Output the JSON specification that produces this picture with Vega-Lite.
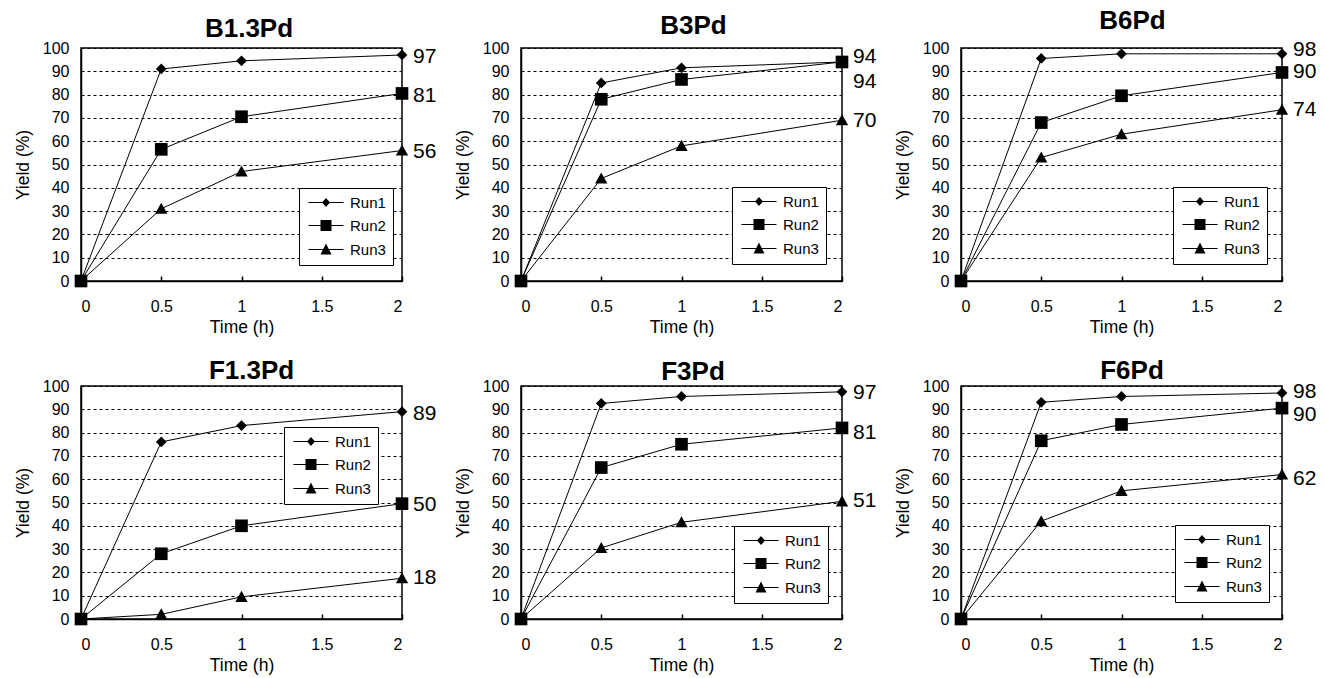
{
  "$schema": "https://vega.github.io/schema/vega-lite/v6.json",
  "background": "white",
  "padding": {"left": 13, "top": 7, "right": 5, "bottom": 5},
  "datasets": {
    "pts": [
      {"panel": "B1.3Pd", "run": "Run1", "t": 0, "y": 0}, {"panel": "B1.3Pd", "run": "Run1", "t": 0.5, "y": 91}, {"panel": "B1.3Pd", "run": "Run1", "t": 1, "y": 94.5}, {"panel": "B1.3Pd", "run": "Run1", "t": 2, "y": 97},
      {"panel": "B1.3Pd", "run": "Run2", "t": 0, "y": 0}, {"panel": "B1.3Pd", "run": "Run2", "t": 0.5, "y": 56.5}, {"panel": "B1.3Pd", "run": "Run2", "t": 1, "y": 70.5}, {"panel": "B1.3Pd", "run": "Run2", "t": 2, "y": 80.5},
      {"panel": "B1.3Pd", "run": "Run3", "t": 0, "y": 0}, {"panel": "B1.3Pd", "run": "Run3", "t": 0.5, "y": 31}, {"panel": "B1.3Pd", "run": "Run3", "t": 1, "y": 47}, {"panel": "B1.3Pd", "run": "Run3", "t": 2, "y": 56},
      {"panel": "B3Pd", "run": "Run1", "t": 0, "y": 0}, {"panel": "B3Pd", "run": "Run1", "t": 0.5, "y": 85}, {"panel": "B3Pd", "run": "Run1", "t": 1, "y": 91.5}, {"panel": "B3Pd", "run": "Run1", "t": 2, "y": 94},
      {"panel": "B3Pd", "run": "Run2", "t": 0, "y": 0}, {"panel": "B3Pd", "run": "Run2", "t": 0.5, "y": 78}, {"panel": "B3Pd", "run": "Run2", "t": 1, "y": 86.5}, {"panel": "B3Pd", "run": "Run2", "t": 2, "y": 94},
      {"panel": "B3Pd", "run": "Run3", "t": 0, "y": 0}, {"panel": "B3Pd", "run": "Run3", "t": 0.5, "y": 44}, {"panel": "B3Pd", "run": "Run3", "t": 1, "y": 58}, {"panel": "B3Pd", "run": "Run3", "t": 2, "y": 69},
      {"panel": "B6Pd", "run": "Run1", "t": 0, "y": 0}, {"panel": "B6Pd", "run": "Run1", "t": 0.5, "y": 95.5}, {"panel": "B6Pd", "run": "Run1", "t": 1, "y": 97.5}, {"panel": "B6Pd", "run": "Run1", "t": 2, "y": 97.5},
      {"panel": "B6Pd", "run": "Run2", "t": 0, "y": 0}, {"panel": "B6Pd", "run": "Run2", "t": 0.5, "y": 68}, {"panel": "B6Pd", "run": "Run2", "t": 1, "y": 79.5}, {"panel": "B6Pd", "run": "Run2", "t": 2, "y": 89.5},
      {"panel": "B6Pd", "run": "Run3", "t": 0, "y": 0}, {"panel": "B6Pd", "run": "Run3", "t": 0.5, "y": 53}, {"panel": "B6Pd", "run": "Run3", "t": 1, "y": 63}, {"panel": "B6Pd", "run": "Run3", "t": 2, "y": 73.5},
      {"panel": "F1.3Pd", "run": "Run1", "t": 0, "y": 0}, {"panel": "F1.3Pd", "run": "Run1", "t": 0.5, "y": 76}, {"panel": "F1.3Pd", "run": "Run1", "t": 1, "y": 83}, {"panel": "F1.3Pd", "run": "Run1", "t": 2, "y": 89},
      {"panel": "F1.3Pd", "run": "Run2", "t": 0, "y": 0}, {"panel": "F1.3Pd", "run": "Run2", "t": 0.5, "y": 28}, {"panel": "F1.3Pd", "run": "Run2", "t": 1, "y": 40}, {"panel": "F1.3Pd", "run": "Run2", "t": 2, "y": 49.5},
      {"panel": "F1.3Pd", "run": "Run3", "t": 0, "y": 0}, {"panel": "F1.3Pd", "run": "Run3", "t": 0.5, "y": 2}, {"panel": "F1.3Pd", "run": "Run3", "t": 1, "y": 9.5}, {"panel": "F1.3Pd", "run": "Run3", "t": 2, "y": 17.5},
      {"panel": "F3Pd", "run": "Run1", "t": 0, "y": 0}, {"panel": "F3Pd", "run": "Run1", "t": 0.5, "y": 92.5}, {"panel": "F3Pd", "run": "Run1", "t": 1, "y": 95.5}, {"panel": "F3Pd", "run": "Run1", "t": 2, "y": 97.5},
      {"panel": "F3Pd", "run": "Run2", "t": 0, "y": 0}, {"panel": "F3Pd", "run": "Run2", "t": 0.5, "y": 65}, {"panel": "F3Pd", "run": "Run2", "t": 1, "y": 75}, {"panel": "F3Pd", "run": "Run2", "t": 2, "y": 82},
      {"panel": "F3Pd", "run": "Run3", "t": 0, "y": 0}, {"panel": "F3Pd", "run": "Run3", "t": 0.5, "y": 30.5}, {"panel": "F3Pd", "run": "Run3", "t": 1, "y": 41.5}, {"panel": "F3Pd", "run": "Run3", "t": 2, "y": 50.5},
      {"panel": "F6Pd", "run": "Run1", "t": 0, "y": 0}, {"panel": "F6Pd", "run": "Run1", "t": 0.5, "y": 93}, {"panel": "F6Pd", "run": "Run1", "t": 1, "y": 95.5}, {"panel": "F6Pd", "run": "Run1", "t": 2, "y": 97},
      {"panel": "F6Pd", "run": "Run2", "t": 0, "y": 0}, {"panel": "F6Pd", "run": "Run2", "t": 0.5, "y": 76.5}, {"panel": "F6Pd", "run": "Run2", "t": 1, "y": 83.5}, {"panel": "F6Pd", "run": "Run2", "t": 2, "y": 90.5},
      {"panel": "F6Pd", "run": "Run3", "t": 0, "y": 0}, {"panel": "F6Pd", "run": "Run3", "t": 0.5, "y": 42}, {"panel": "F6Pd", "run": "Run3", "t": 1, "y": 55}, {"panel": "F6Pd", "run": "Run3", "t": 2, "y": 62}
    ],
    "lbl": [
      {"panel": "B1.3Pd", "t": 2, "y": 96, "label": "97"}, {"panel": "B1.3Pd", "t": 2, "y": 79.5, "label": "81"}, {"panel": "B1.3Pd", "t": 2, "y": 55.5, "label": "56"},
      {"panel": "B3Pd", "t": 2, "y": 96, "label": "94"}, {"panel": "B3Pd", "t": 2, "y": 85.5, "label": "94"}, {"panel": "B3Pd", "t": 2, "y": 68.5, "label": "70"},
      {"panel": "B6Pd", "t": 2, "y": 99, "label": "98"}, {"panel": "B6Pd", "t": 2, "y": 89.5, "label": "90"}, {"panel": "B6Pd", "t": 2, "y": 73.5, "label": "74"},
      {"panel": "F1.3Pd", "t": 2, "y": 88, "label": "89"}, {"panel": "F1.3Pd", "t": 2, "y": 49, "label": "50"}, {"panel": "F1.3Pd", "t": 2, "y": 17.5, "label": "18"},
      {"panel": "F3Pd", "t": 2, "y": 97, "label": "97"}, {"panel": "F3Pd", "t": 2, "y": 80, "label": "81"}, {"panel": "F3Pd", "t": 2, "y": 50.5, "label": "51"},
      {"panel": "F6Pd", "t": 2, "y": 97.5, "label": "98"}, {"panel": "F6Pd", "t": 2, "y": 87.5, "label": "90"}, {"panel": "F6Pd", "t": 2, "y": 60, "label": "62"}
    ]
  },
  "columns": 3,
  "spacing": {"row": 105, "column": 119},
  "bounds": "flush",
  "concat": [
    {
      "width": 321, "height": 233,
      "title": {"text": "B1.3Pd", "dx": 7.5, "offset": -2},
      "encoding": {
        "x": {"field": "t", "type": "quantitative", "scale": {"domain": [0, 2], "nice": false, "zero": false}, "axis": {"values": [0, 0.5, 1, 1.5, 2], "format": "~g", "title": "Time (h)", "grid": false, "tickSize": -5, "labelPadding": 22, "titlePadding": 4}},
        "y": {"field": "y", "type": "quantitative", "scale": {"domain": [0, 100], "nice": false}, "axis": {"values": [0, 10, 20, 30, 40, 50, 60, 70, 80, 90, 100], "title": "Yield (%)", "grid": true, "ticks": false, "labelPadding": 12, "titlePadding": 10}}
      },
      "layer": [
        {"data": {"name": "pts"}, "transform": [{"filter": "datum.panel === 'B1.3Pd'"}], "mark": {"type": "line", "color": "black", "strokeWidth": 1}, "encoding": {"detail": {"field": "run"}}},
        {"data": {"name": "pts"}, "transform": [{"filter": "datum.panel === 'B1.3Pd'"}], "mark": {"type": "point", "filled": true, "color": "black", "opacity": 1, "size": 160},
          "encoding": {"shape": {"field": "run", "scale": {"domain": ["Run1", "Run2", "Run3"], "range": ["M0,-0.85L0.85,0L0,0.85L-0.85,0Z", "M-1,-1H1V1H-1Z", "M0,-0.95L0.97,0.8L-0.97,0.8Z"]}, "legend": null}}},
        {"data": {"name": "pts"}, "transform": [{"filter": "false"}], "mark": {"type": "point", "filled": true, "color": "black", "opacity": 1, "size": 100},
          "encoding": {"shape": {"field": "run", "scale": {"domain": ["Run1", "Run2", "Run3"], "range": ["M-2.4,0M-1,-0.11H6V0.11H-1ZM1.7,0L2.5,-0.9L3.3,0L2.5,0.9Z", "M-2.4,0M-1,-0.11H6V0.11H-1ZM1.4,-1.1H3.6V1.1H1.4Z", "M-2.4,0M-1,-0.11H6V0.11H-1ZM2.5,-1.2L3.6,1L1.4,1Z"]},
            "legend": {"orient": "none", "legendX": 218, "legendY": 140, "title": null, "symbolSize": 100, "symbolOpacity": 1}}}},
        {"data": {"name": "lbl"}, "transform": [{"filter": "datum.panel === 'B1.3Pd'"}], "mark": {"type": "text", "align": "left", "baseline": "middle", "dx": 11, "fontSize": 21, "color": "black"}, "encoding": {"text": {"field": "label"}}}
      ],
      "resolve": {"scale": {"shape": "independent"}, "legend": {"shape": "independent"}}
    },
    {
      "width": 321, "height": 233,
      "title": {"text": "B3Pd", "dx": 12, "offset": 1},
      "encoding": {
        "x": {"field": "t", "type": "quantitative", "scale": {"domain": [0, 2], "nice": false, "zero": false}, "axis": {"values": [0, 0.5, 1, 1.5, 2], "format": "~g", "title": "Time (h)", "grid": false, "tickSize": -5, "labelPadding": 22, "titlePadding": 4}},
        "y": {"field": "y", "type": "quantitative", "scale": {"domain": [0, 100], "nice": false}, "axis": {"values": [0, 10, 20, 30, 40, 50, 60, 70, 80, 90, 100], "title": "Yield (%)", "grid": true, "ticks": false, "labelPadding": 12, "titlePadding": 10}}
      },
      "layer": [
        {"data": {"name": "pts"}, "transform": [{"filter": "datum.panel === 'B3Pd'"}], "mark": {"type": "line", "color": "black", "strokeWidth": 1}, "encoding": {"detail": {"field": "run"}}},
        {"data": {"name": "pts"}, "transform": [{"filter": "datum.panel === 'B3Pd'"}], "mark": {"type": "point", "filled": true, "color": "black", "opacity": 1, "size": 160},
          "encoding": {"shape": {"field": "run", "scale": {"domain": ["Run1", "Run2", "Run3"], "range": ["M0,-0.85L0.85,0L0,0.85L-0.85,0Z", "M-1,-1H1V1H-1Z", "M0,-0.95L0.97,0.8L-0.97,0.8Z"]}, "legend": null}}},
        {"data": {"name": "pts"}, "transform": [{"filter": "false"}], "mark": {"type": "point", "filled": true, "color": "black", "opacity": 1, "size": 100},
          "encoding": {"shape": {"field": "run", "scale": {"domain": ["Run1", "Run2", "Run3"], "range": ["M-2.4,0M-1,-0.11H6V0.11H-1ZM1.7,0L2.5,-0.9L3.3,0L2.5,0.9Z", "M-2.4,0M-1,-0.11H6V0.11H-1ZM1.4,-1.1H3.6V1.1H1.4Z", "M-2.4,0M-1,-0.11H6V0.11H-1ZM2.5,-1.2L3.6,1L1.4,1Z"]},
            "legend": {"orient": "none", "legendX": 211, "legendY": 139, "title": null, "symbolSize": 100, "symbolOpacity": 1}}}},
        {"data": {"name": "lbl"}, "transform": [{"filter": "datum.panel === 'B3Pd'"}], "mark": {"type": "text", "align": "left", "baseline": "middle", "dx": 11, "fontSize": 21, "color": "black"}, "encoding": {"text": {"field": "label"}}}
      ],
      "resolve": {"scale": {"shape": "independent"}, "legend": {"shape": "independent"}}
    },
    {
      "width": 321, "height": 233,
      "title": {"text": "B6Pd", "dx": 11, "offset": 5},
      "encoding": {
        "x": {"field": "t", "type": "quantitative", "scale": {"domain": [0, 2], "nice": false, "zero": false}, "axis": {"values": [0, 0.5, 1, 1.5, 2], "format": "~g", "title": "Time (h)", "grid": false, "tickSize": -5, "labelPadding": 22, "titlePadding": 4}},
        "y": {"field": "y", "type": "quantitative", "scale": {"domain": [0, 100], "nice": false}, "axis": {"values": [0, 10, 20, 30, 40, 50, 60, 70, 80, 90, 100], "title": "Yield (%)", "grid": true, "ticks": false, "labelPadding": 12, "titlePadding": 10}}
      },
      "layer": [
        {"data": {"name": "pts"}, "transform": [{"filter": "datum.panel === 'B6Pd'"}], "mark": {"type": "line", "color": "black", "strokeWidth": 1}, "encoding": {"detail": {"field": "run"}}},
        {"data": {"name": "pts"}, "transform": [{"filter": "datum.panel === 'B6Pd'"}], "mark": {"type": "point", "filled": true, "color": "black", "opacity": 1, "size": 160},
          "encoding": {"shape": {"field": "run", "scale": {"domain": ["Run1", "Run2", "Run3"], "range": ["M0,-0.85L0.85,0L0,0.85L-0.85,0Z", "M-1,-1H1V1H-1Z", "M0,-0.95L0.97,0.8L-0.97,0.8Z"]}, "legend": null}}},
        {"data": {"name": "pts"}, "transform": [{"filter": "false"}], "mark": {"type": "point", "filled": true, "color": "black", "opacity": 1, "size": 100},
          "encoding": {"shape": {"field": "run", "scale": {"domain": ["Run1", "Run2", "Run3"], "range": ["M-2.4,0M-1,-0.11H6V0.11H-1ZM1.7,0L2.5,-0.9L3.3,0L2.5,0.9Z", "M-2.4,0M-1,-0.11H6V0.11H-1ZM1.4,-1.1H3.6V1.1H1.4Z", "M-2.4,0M-1,-0.11H6V0.11H-1ZM2.5,-1.2L3.6,1L1.4,1Z"]},
            "legend": {"orient": "none", "legendX": 212, "legendY": 139, "title": null, "symbolSize": 100, "symbolOpacity": 1}}}},
        {"data": {"name": "lbl"}, "transform": [{"filter": "datum.panel === 'B6Pd'"}], "mark": {"type": "text", "align": "left", "baseline": "middle", "dx": 11, "fontSize": 21, "color": "black"}, "encoding": {"text": {"field": "label"}}}
      ],
      "resolve": {"scale": {"shape": "independent"}, "legend": {"shape": "independent"}}
    },
    {
      "width": 321, "height": 233,
      "title": {"text": "F1.3Pd", "dx": 10, "offset": -6},
      "encoding": {
        "x": {"field": "t", "type": "quantitative", "scale": {"domain": [0, 2], "nice": false, "zero": false}, "axis": {"values": [0, 0.5, 1, 1.5, 2], "format": "~g", "title": "Time (h)", "grid": false, "tickSize": -5, "labelPadding": 22, "titlePadding": 4}},
        "y": {"field": "y", "type": "quantitative", "scale": {"domain": [0, 100], "nice": false}, "axis": {"values": [0, 10, 20, 30, 40, 50, 60, 70, 80, 90, 100], "title": "Yield (%)", "grid": true, "ticks": false, "labelPadding": 12, "titlePadding": 10}}
      },
      "layer": [
        {"data": {"name": "pts"}, "transform": [{"filter": "datum.panel === 'F1.3Pd'"}], "mark": {"type": "line", "color": "black", "strokeWidth": 1}, "encoding": {"detail": {"field": "run"}}},
        {"data": {"name": "pts"}, "transform": [{"filter": "datum.panel === 'F1.3Pd'"}], "mark": {"type": "point", "filled": true, "color": "black", "opacity": 1, "size": 160},
          "encoding": {"shape": {"field": "run", "scale": {"domain": ["Run1", "Run2", "Run3"], "range": ["M0,-0.85L0.85,0L0,0.85L-0.85,0Z", "M-1,-1H1V1H-1Z", "M0,-0.95L0.97,0.8L-0.97,0.8Z"]}, "legend": null}}},
        {"data": {"name": "pts"}, "transform": [{"filter": "false"}], "mark": {"type": "point", "filled": true, "color": "black", "opacity": 1, "size": 100},
          "encoding": {"shape": {"field": "run", "scale": {"domain": ["Run1", "Run2", "Run3"], "range": ["M-2.4,0M-1,-0.11H6V0.11H-1ZM1.7,0L2.5,-0.9L3.3,0L2.5,0.9Z", "M-2.4,0M-1,-0.11H6V0.11H-1ZM1.4,-1.1H3.6V1.1H1.4Z", "M-2.4,0M-1,-0.11H6V0.11H-1ZM2.5,-1.2L3.6,1L1.4,1Z"]},
            "legend": {"orient": "none", "legendX": 203, "legendY": 41, "title": null, "symbolSize": 100, "symbolOpacity": 1}}}},
        {"data": {"name": "lbl"}, "transform": [{"filter": "datum.panel === 'F1.3Pd'"}], "mark": {"type": "text", "align": "left", "baseline": "middle", "dx": 11, "fontSize": 21, "color": "black"}, "encoding": {"text": {"field": "label"}}}
      ],
      "resolve": {"scale": {"shape": "independent"}, "legend": {"shape": "independent"}}
    },
    {
      "width": 321, "height": 233,
      "title": {"text": "F3Pd", "dx": 11.5, "offset": -7},
      "encoding": {
        "x": {"field": "t", "type": "quantitative", "scale": {"domain": [0, 2], "nice": false, "zero": false}, "axis": {"values": [0, 0.5, 1, 1.5, 2], "format": "~g", "title": "Time (h)", "grid": false, "tickSize": -5, "labelPadding": 22, "titlePadding": 4}},
        "y": {"field": "y", "type": "quantitative", "scale": {"domain": [0, 100], "nice": false}, "axis": {"values": [0, 10, 20, 30, 40, 50, 60, 70, 80, 90, 100], "title": "Yield (%)", "grid": true, "ticks": false, "labelPadding": 12, "titlePadding": 10}}
      },
      "layer": [
        {"data": {"name": "pts"}, "transform": [{"filter": "datum.panel === 'F3Pd'"}], "mark": {"type": "line", "color": "black", "strokeWidth": 1}, "encoding": {"detail": {"field": "run"}}},
        {"data": {"name": "pts"}, "transform": [{"filter": "datum.panel === 'F3Pd'"}], "mark": {"type": "point", "filled": true, "color": "black", "opacity": 1, "size": 160},
          "encoding": {"shape": {"field": "run", "scale": {"domain": ["Run1", "Run2", "Run3"], "range": ["M0,-0.85L0.85,0L0,0.85L-0.85,0Z", "M-1,-1H1V1H-1Z", "M0,-0.95L0.97,0.8L-0.97,0.8Z"]}, "legend": null}}},
        {"data": {"name": "pts"}, "transform": [{"filter": "false"}], "mark": {"type": "point", "filled": true, "color": "black", "opacity": 1, "size": 100},
          "encoding": {"shape": {"field": "run", "scale": {"domain": ["Run1", "Run2", "Run3"], "range": ["M-2.4,0M-1,-0.11H6V0.11H-1ZM1.7,0L2.5,-0.9L3.3,0L2.5,0.9Z", "M-2.4,0M-1,-0.11H6V0.11H-1ZM1.4,-1.1H3.6V1.1H1.4Z", "M-2.4,0M-1,-0.11H6V0.11H-1ZM2.5,-1.2L3.6,1L1.4,1Z"]},
            "legend": {"orient": "none", "legendX": 213, "legendY": 140, "title": null, "symbolSize": 100, "symbolOpacity": 1}}}},
        {"data": {"name": "lbl"}, "transform": [{"filter": "datum.panel === 'F3Pd'"}], "mark": {"type": "text", "align": "left", "baseline": "middle", "dx": 11, "fontSize": 21, "color": "black"}, "encoding": {"text": {"field": "label"}}}
      ],
      "resolve": {"scale": {"shape": "independent"}, "legend": {"shape": "independent"}}
    },
    {
      "width": 321, "height": 233,
      "title": {"text": "F6Pd", "dx": 10.5, "offset": -6},
      "encoding": {
        "x": {"field": "t", "type": "quantitative", "scale": {"domain": [0, 2], "nice": false, "zero": false}, "axis": {"values": [0, 0.5, 1, 1.5, 2], "format": "~g", "title": "Time (h)", "grid": false, "tickSize": -5, "labelPadding": 22, "titlePadding": 4}},
        "y": {"field": "y", "type": "quantitative", "scale": {"domain": [0, 100], "nice": false}, "axis": {"values": [0, 10, 20, 30, 40, 50, 60, 70, 80, 90, 100], "title": "Yield (%)", "grid": true, "ticks": false, "labelPadding": 12, "titlePadding": 10}}
      },
      "layer": [
        {"data": {"name": "pts"}, "transform": [{"filter": "datum.panel === 'F6Pd'"}], "mark": {"type": "line", "color": "black", "strokeWidth": 1}, "encoding": {"detail": {"field": "run"}}},
        {"data": {"name": "pts"}, "transform": [{"filter": "datum.panel === 'F6Pd'"}], "mark": {"type": "point", "filled": true, "color": "black", "opacity": 1, "size": 160},
          "encoding": {"shape": {"field": "run", "scale": {"domain": ["Run1", "Run2", "Run3"], "range": ["M0,-0.85L0.85,0L0,0.85L-0.85,0Z", "M-1,-1H1V1H-1Z", "M0,-0.95L0.97,0.8L-0.97,0.8Z"]}, "legend": null}}},
        {"data": {"name": "pts"}, "transform": [{"filter": "false"}], "mark": {"type": "point", "filled": true, "color": "black", "opacity": 1, "size": 100},
          "encoding": {"shape": {"field": "run", "scale": {"domain": ["Run1", "Run2", "Run3"], "range": ["M-2.4,0M-1,-0.11H6V0.11H-1ZM1.7,0L2.5,-0.9L3.3,0L2.5,0.9Z", "M-2.4,0M-1,-0.11H6V0.11H-1ZM1.4,-1.1H3.6V1.1H1.4Z", "M-2.4,0M-1,-0.11H6V0.11H-1ZM2.5,-1.2L3.6,1L1.4,1Z"]},
            "legend": {"orient": "none", "legendX": 214, "legendY": 139, "title": null, "symbolSize": 100, "symbolOpacity": 1}}}},
        {"data": {"name": "lbl"}, "transform": [{"filter": "datum.panel === 'F6Pd'"}], "mark": {"type": "text", "align": "left", "baseline": "middle", "dx": 11, "fontSize": 21, "color": "black"}, "encoding": {"text": {"field": "label"}}}
      ],
      "resolve": {"scale": {"shape": "independent"}, "legend": {"shape": "independent"}}
    }
  ],
  "resolve": {"scale": {"shape": "independent"}, "legend": {"shape": "independent"}},
  "config": {
    "font": "Liberation Sans",
    "view": {"stroke": "black", "strokeWidth": 1.5},
    "axis": {"domainColor": "black", "domainWidth": 1.5, "labelColor": "black", "labelFontSize": 16, "titleColor": "black", "titleFontSize": 17.5, "titleFontWeight": "normal", "gridColor": "black", "gridDash": [3, 3], "gridOpacity": 1, "gridWidth": 1, "tickColor": "black", "tickWidth": 1.5},
    "title": {"fontSize": 26, "fontWeight": "bold", "color": "black", "anchor": "middle"},
    "legend": {"labelFontSize": 15, "labelColor": "black", "strokeColor": "black", "fillColor": "white", "padding": 7, "symbolSize": 100, "labelOffset": 29, "rowPadding": 6}
  }
}
